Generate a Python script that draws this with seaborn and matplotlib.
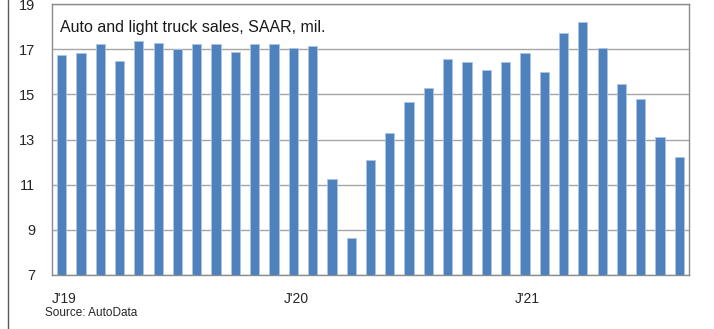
import pandas as pd
import matplotlib
matplotlib.use("Agg")
import matplotlib.pyplot as plt
from matplotlib.lines import Line2D
import seaborn as sns

# monthly data, Jan 2019 - Sep 2021
months = pd.date_range("2019-01-01", periods=33, freq="MS").strftime("%Y-%m").tolist()
sales = [16.75, 16.85, 17.24, 16.47, 17.35, 17.27, 17.01, 17.24, 17.24, 16.88, 17.21, 17.21,
         17.04, 17.13, 11.26, 8.65, 12.09, 13.28, 14.67, 15.30, 16.56, 16.44, 16.09, 16.44,
         16.85, 15.97, 17.72, 18.21, 17.06, 15.45, 14.80, 13.11, 12.22]
year_labels = ["J'19", "J'20", "J'21"]
y_ticks = [7, 9, 11, 13, 15, 17, 19]

df = pd.DataFrame({"Month": months, "Sales": sales})

sns.set_style("white")
plt.rcParams["font.family"] = ["Liberation Sans", "DejaVu Sans"]

fig = plt.figure(figsize=(7.14, 3.29), dpi=100)
ax = fig.add_axes([52 / 714, 1 - 275 / 329, (689 - 52) / 714, (275 - 4) / 329])

sns.barplot(data=df, x="Month", y="Sales", color="#4F81BD", saturation=1,
            width=0.48, edgecolor="#A9C4E6", linewidth=0.6, ax=ax, zorder=3)

ax.set_ylim(7, 19)
ax.set_xlim(-0.5, len(months) - 0.5)
ax.set_yticks(y_ticks)
ax.set_yticklabels([str(t) for t in y_ticks], fontsize=10.5)
ax.yaxis.grid(True, color="#A6A6A6", linewidth=1, zorder=0)

# year ticks sit on the boundary before each January
starts = [i - 0.5 for i, m in enumerate(months) if m.endswith("-01")]
ax.set_xticks(starts)
ax.set_xticklabels(year_labels, fontsize=10, ha="left")
ax.tick_params(axis="x", length=6, width=1, color="#888888", direction="out", pad=6)
ax.tick_params(axis="y", length=4, width=1, color="#888888", direction="out", pad=8)
ax.set_xlabel("")
ax.set_ylabel("")

for s in ax.spines.values():
    s.set_color("#8C8C8C")
    s.set_linewidth(1)

ax.text(0.013, 0.912, "Auto and light truck sales, SAAR, mil.", transform=ax.transAxes,
        fontsize=11.5, va="center", ha="left", color="#1a1a1a")
fig.text(45 / 714, 1 - 313 / 329, "Source: AutoData", fontsize=8.5, va="center", ha="left")

# outer chart-area border on the left
fig.add_artist(Line2D([8 / 714, 8 / 714], [0, 1], transform=fig.transFigure,
                      color="#5a5a5a", linewidth=1))

fig.savefig("out.png", dpi=100)
